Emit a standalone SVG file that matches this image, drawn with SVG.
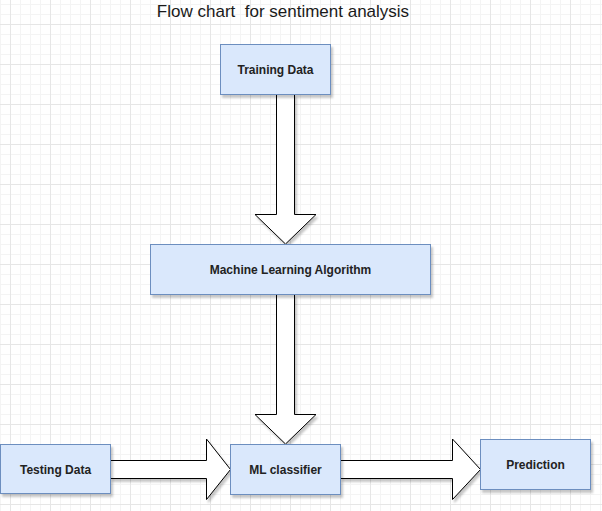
<svg xmlns="http://www.w3.org/2000/svg" width="602" height="511" viewBox="0 0 602 511">
<defs>
<pattern id="grid" patternUnits="userSpaceOnUse" x="10" y="24" width="40" height="40">
<rect x="0" y="0" width="40" height="40" fill="#ffffff"/>
<g fill="#f4f4f4">
<rect x="10" y="0" width="1" height="40"/><rect x="20" y="0" width="1" height="40"/><rect x="30" y="0" width="1" height="40"/>
<rect x="0" y="10" width="40" height="1"/><rect x="0" y="20" width="40" height="1"/><rect x="0" y="30" width="40" height="1"/>
</g>
<g fill="#e6e6e6">
<rect x="0" y="0" width="1" height="40"/><rect x="0" y="0" width="40" height="1"/>
</g>
</pattern>
<filter id="shadow" x="-10%" y="-10%" width="130%" height="140%">
<feDropShadow dx="2" dy="3" stdDeviation="1.2" flood-color="#000" flood-opacity="0.22"/>
</filter>
</defs>
<style>
.box{fill:#dae8fc;stroke:#6c8ebf;stroke-width:1;filter:url(#shadow)}
.lbl{font-family:"Liberation Sans",Arial,sans-serif;font-size:12px;font-weight:bold;fill:#222;text-anchor:middle}
.arrow{fill:#ffffff;stroke:#000;stroke-width:1;stroke-linejoin:miter;filter:url(#shadow)}
.title{font-family:"Liberation Sans",Arial,sans-serif;font-size:17px;fill:#1a1a1a;text-anchor:middle}
</style>
<rect x="0" y="0" width="602" height="511" fill="url(#grid)"/>
<text class="title" x="283" y="16.5" xml:space="preserve">Flow chart  for sentiment analysis</text>
<g id="connectors">
<path class="arrow" d="M276.5 94.5 H294.5 V214.5 H316 L285.5 244 L255 214.5 H276.5 Z"/>
<path class="arrow" d="M276.5 294.5 H294.5 V414.5 H316 L285.5 444 L255 414.5 H276.5 Z"/>
<path class="arrow" d="M110.5 460.5 H206.5 V439 L230.5 469.5 L206.5 499.5 V478.5 H110.5 Z"/>
<path class="arrow" d="M340.5 460.5 H452.5 V439 L480.5 469.5 L452.5 499.5 V478.5 H340.5 Z"/>
</g>
<g id="training-data">
<rect class="box" x="220.5" y="44.5" width="110" height="50"/>
<text class="lbl" x="275.5" y="73.5">Training Data</text>
</g>
<g id="ml-algorithm">
<rect class="box" x="150.5" y="244.5" width="280" height="50"/>
<text class="lbl" x="290.5" y="273.5">Machine Learning Algorithm</text>
</g>
<g id="testing-data">
<rect class="box" x="0.5" y="444.5" width="110" height="49"/>
<text class="lbl" x="55.5" y="473.5">Testing Data</text>
</g>
<g id="ml-classifier">
<rect class="box" x="230.5" y="444.5" width="110" height="50"/>
<text class="lbl" x="285.5" y="473.5">ML classifier</text>
</g>
<g id="prediction">
<rect class="box" x="480.5" y="439.5" width="110" height="50"/>
<text class="lbl" x="535.5" y="468.5">Prediction</text>
</g>
</svg>
